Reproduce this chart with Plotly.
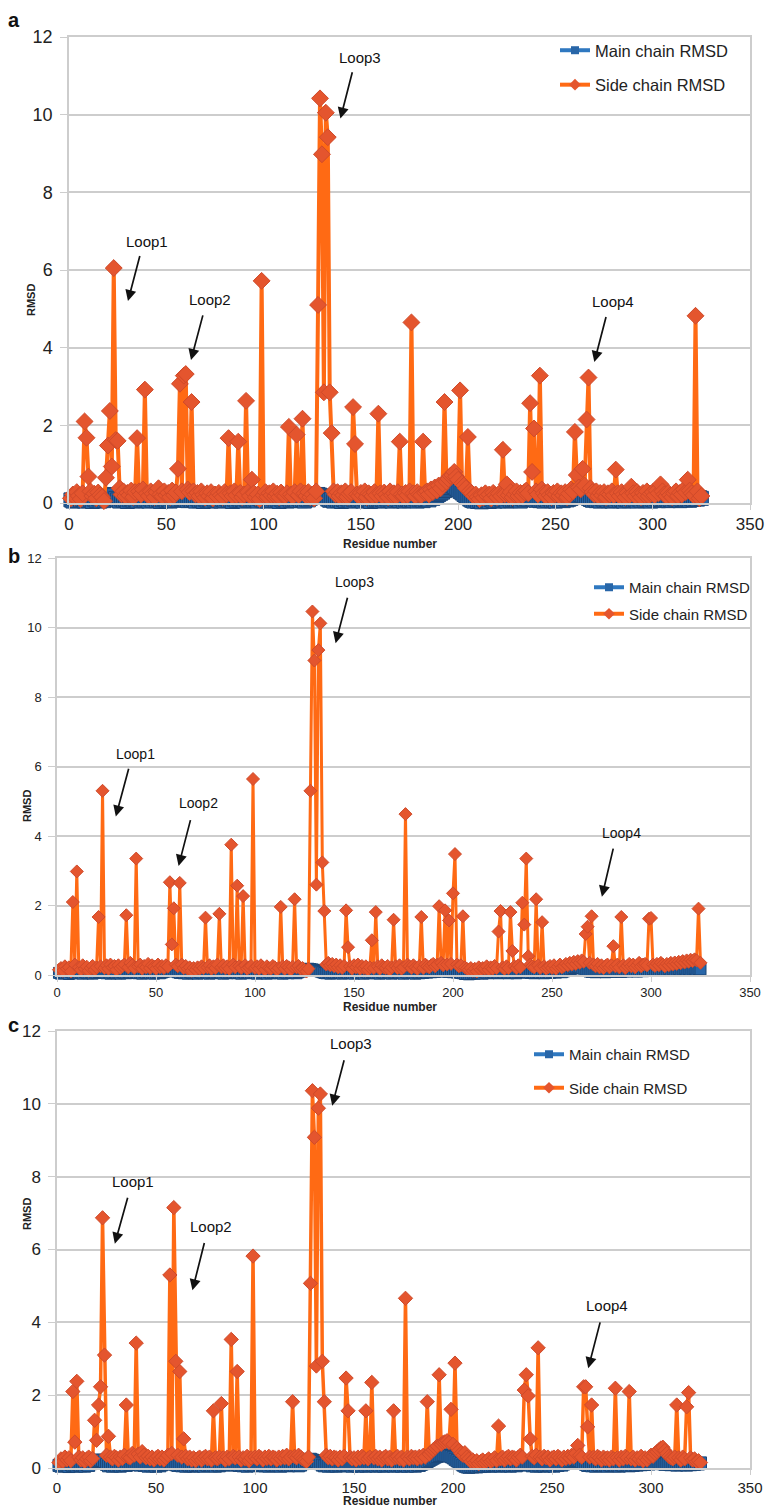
import plotly.graph_objects as go

# ---------------- data ----------------
residues = list(range(1, 326))

main_a = [
    0.08, 0.05, 0.10, 0.06, 0.12, 0.07, 0.09, 0.05, 0.11, 0.06,
    0.08, 0.04, 0.10, 0.07, 0.12, 0.05, 0.09, 0.06, 0.10, 0.14,
    0.18, 0.22, 0.20, 0.12, 0.08, 0.05, 0.10, 0.07, 0.09, 0.04,
    0.08, 0.11, 0.06, 0.09, 0.05, 0.12, 0.07, 0.10, 0.06, 0.08,
    0.05, 0.10, 0.07, 0.12, 0.06, 0.09, 0.04, 0.08, 0.11, 0.06,
    0.09, 0.05, 0.10, 0.07, 0.12, 0.08, 0.14, 0.10, 0.12, 0.08,
    0.06, 0.10, 0.07, 0.09, 0.05, 0.11, 0.06, 0.08, 0.04, 0.10,
    0.07, 0.09, 0.05, 0.12, 0.06, 0.08, 0.10, 0.05, 0.09, 0.07,
    0.11, 0.06, 0.08, 0.04, 0.10, 0.07, 0.12, 0.06, 0.09, 0.05,
    0.10, 0.07, 0.08, 0.12, 0.06, 0.09, 0.05, 0.11, 0.08, 0.06,
    0.09, 0.05, 0.10, 0.07, 0.12, 0.06, 0.08, 0.04, 0.10, 0.07,
    0.09, 0.05, 0.11, 0.06, 0.08, 0.10, 0.07, 0.12, 0.06, 0.09,
    0.05, 0.10, 0.08, 0.12, 0.15, 0.18, 0.20, 0.22, 0.20, 0.18,
    0.16, 0.14, 0.10, 0.07, 0.09, 0.05, 0.10, 0.06, 0.08, 0.04,
    0.09, 0.06, 0.11, 0.07, 0.05, 0.10, 0.08, 0.12, 0.06, 0.09,
    0.05, 0.10, 0.07, 0.09, 0.04, 0.11, 0.06, 0.08, 0.10, 0.05,
    0.09, 0.07, 0.12, 0.06, 0.08, 0.05, 0.10, 0.07, 0.09, 0.06,
    0.11, 0.05, 0.08, 0.10, 0.06, 0.09, 0.07, 0.12, 0.05, 0.08,
    0.10, 0.06, 0.09, 0.12, 0.08, 0.14, 0.12, 0.16, 0.18, 0.22,
    0.25, 0.28, 0.32, 0.36, 0.40, 0.44, 0.46, 0.42, 0.38, 0.34,
    0.30, 0.26, 0.22, 0.18, 0.14, 0.10, 0.07, 0.05, 0.08, 0.04,
    0.06, 0.03, 0.08, 0.05, 0.07, 0.04, 0.09, 0.06, 0.05, 0.08,
    0.06, 0.10, 0.07, 0.09, 0.05, 0.11, 0.06, 0.08, 0.10, 0.07,
    0.09, 0.05, 0.11, 0.08, 0.12, 0.10, 0.14, 0.12, 0.09, 0.07,
    0.10, 0.06, 0.08, 0.05, 0.09, 0.07, 0.11, 0.06, 0.08, 0.05,
    0.10, 0.07, 0.09, 0.06, 0.12, 0.08, 0.10, 0.12, 0.14, 0.16,
    0.18, 0.20, 0.22, 0.20, 0.18, 0.15, 0.12, 0.09, 0.07, 0.10,
    0.06, 0.08, 0.05, 0.11, 0.07, 0.09, 0.06, 0.10, 0.05, 0.08,
    0.07, 0.12, 0.06, 0.09, 0.05, 0.10, 0.08, 0.06, 0.11, 0.07,
    0.09, 0.05, 0.10, 0.07, 0.12, 0.06, 0.08, 0.10, 0.05, 0.09,
    0.07, 0.11, 0.06, 0.09, 0.12, 0.08, 0.10, 0.06, 0.09, 0.07,
    0.11, 0.08, 0.10, 0.06, 0.09, 0.12, 0.08, 0.10, 0.07, 0.11,
    0.09, 0.12, 0.10, 0.14, 0.12,
]

side_a = [
    0.12, 0.22, 0.15, 0.28, 0.18, 0.10, 0.25, 2.10, 1.68, 0.68,
    0.30, 0.18, 0.24, 0.12, 0.27, 0.20, 0.15, 0.05, 0.65, 1.48,
    2.37, 0.94, 6.05, 1.62, 1.60, 0.38, 0.22, 0.30, 0.18, 0.26,
    0.20, 0.32, 0.15, 0.28, 1.67, 0.30, 0.22, 0.35, 2.92, 0.25,
    0.18, 0.30, 0.24, 0.15, 0.28, 0.38, 0.22, 0.17, 0.30, 0.20,
    0.26, 0.15, 0.32, 0.20, 0.27, 0.88, 3.07, 0.30, 3.28, 3.32,
    0.35, 0.28, 2.60, 0.30, 0.22, 0.26, 0.18, 0.30, 0.21, 0.14,
    0.25, 0.18, 0.28, 0.12, 0.22, 0.17, 0.26, 0.20, 0.15, 0.28,
    0.22, 1.67, 0.25, 0.18, 0.30, 0.20, 1.58, 0.26, 0.15, 0.22,
    2.63, 0.28, 0.18, 0.60, 0.25, 0.15, 0.22, 0.10, 5.72, 0.20,
    0.28, 0.16, 0.25, 0.20, 0.30, 0.18, 0.24, 0.15, 0.27, 0.20,
    0.18, 0.25, 1.96, 0.22, 0.17, 0.28, 1.76, 0.20, 0.30, 2.17,
    0.25, 0.18, 0.28, 0.15, 0.22, 0.12, 0.30, 5.10, 10.42, 8.98,
    2.85, 10.05, 9.42, 2.85, 1.80, 0.30, 0.22, 0.28, 0.18, 0.25,
    0.20, 0.30, 0.16, 0.24, 0.28, 2.47, 1.52, 0.22, 0.18, 0.26,
    0.20, 0.30, 0.15, 0.25, 0.22, 0.18, 0.28, 0.20, 2.30, 0.25,
    0.18, 0.27, 0.22, 0.15, 0.30, 0.20, 0.25, 0.17, 0.28, 1.58,
    0.22, 0.18, 0.26, 0.20, 0.30, 4.65, 0.25, 0.18, 0.28, 0.22,
    0.20, 1.58, 0.26, 0.30, 0.22, 0.35, 0.28, 0.40, 0.32, 0.45,
    0.38, 0.50, 2.60, 0.55, 0.62, 0.70, 0.72, 0.80, 0.68, 0.60,
    2.90, 0.50, 0.45, 0.38, 1.70, 0.30, 0.25, 0.18, 0.22, 0.15,
    0.10, 0.20, 0.14, 0.25, 0.18, 0.22, 0.12, 0.26, 0.20, 0.15,
    0.24, 0.18, 1.37, 0.22, 0.48, 0.20, 0.28, 0.15, 0.22, 0.30,
    0.18, 0.26, 0.20, 0.28, 0.32, 0.25, 2.57, 0.80, 1.92, 0.30,
    0.22, 3.28, 0.35, 0.25, 0.18, 0.28, 0.20, 0.15, 0.26, 0.22,
    0.30, 0.18, 0.25, 0.20, 0.28, 0.15, 0.24, 0.35, 0.30, 1.83,
    0.72, 0.40, 0.35, 0.88, 0.45, 2.15, 3.23, 0.38, 0.28, 0.22,
    0.30, 0.18, 0.26, 0.20, 0.28, 0.15, 0.25, 0.22, 0.30, 0.20,
    0.86, 0.25, 0.18, 0.28, 0.22, 0.15, 0.26, 0.20, 0.42, 0.25,
    0.18, 0.28, 0.22, 0.15, 0.26, 0.20, 0.30, 0.18, 0.24, 0.28,
    0.20, 0.32, 0.25, 0.48, 0.30, 0.22, 0.18, 0.26, 0.20, 0.15,
    0.25, 0.30, 0.18, 0.26, 0.22, 0.35, 0.28, 0.60, 0.32, 0.25,
    0.20, 4.82, 0.30, 0.12, 0.18,
]

main_b = [
    0.06, 0.04, 0.08, 0.05, 0.07, 0.03, 0.09, 0.05, 0.06, 0.08,
    0.05, 0.07, 0.04, 0.09, 0.06, 0.05, 0.08, 0.04, 0.07, 0.06,
    0.09, 0.11, 0.10, 0.07, 0.05, 0.08, 0.04, 0.06, 0.09, 0.05,
    0.07, 0.04, 0.08, 0.06, 0.05, 0.09, 0.07, 0.10, 0.06, 0.08,
    0.05, 0.07, 0.04, 0.09, 0.06, 0.08, 0.05, 0.07, 0.04, 0.06,
    0.08, 0.05, 0.07, 0.09, 0.11, 0.13, 0.15, 0.14, 0.12, 0.10,
    0.08, 0.06, 0.09, 0.05, 0.07, 0.04, 0.08, 0.06, 0.05, 0.07,
    0.04, 0.08, 0.06, 0.05, 0.09, 0.07, 0.04, 0.06, 0.08, 0.05,
    0.07, 0.09, 0.06, 0.04, 0.08, 0.05, 0.07, 0.10, 0.06, 0.08,
    0.05, 0.07, 0.04, 0.09, 0.06, 0.08, 0.05, 0.07, 0.10, 0.06,
    0.04, 0.07, 0.05, 0.08, 0.06, 0.04, 0.09, 0.05, 0.07, 0.06,
    0.08, 0.05, 0.07, 0.04, 0.09, 0.06, 0.05, 0.08, 0.06, 0.07,
    0.05, 0.08, 0.10, 0.12, 0.14, 0.16, 0.18, 0.17, 0.16, 0.15,
    0.14, 0.12, 0.10, 0.08, 0.06, 0.05, 0.08, 0.04, 0.07, 0.06,
    0.05, 0.08, 0.06, 0.04, 0.07, 0.09, 0.05, 0.07, 0.06, 0.04,
    0.08, 0.06, 0.05, 0.07, 0.04, 0.09, 0.06, 0.05, 0.08, 0.07,
    0.05, 0.07, 0.04, 0.08, 0.06, 0.05, 0.09, 0.06, 0.04, 0.07,
    0.06, 0.08, 0.05, 0.07, 0.04, 0.09, 0.06, 0.05, 0.08, 0.06,
    0.04, 0.07, 0.05, 0.08, 0.06, 0.09, 0.07, 0.10, 0.08, 0.11,
    0.09, 0.12, 0.10, 0.13, 0.11, 0.12, 0.10, 0.09, 0.11, 0.08,
    0.10, 0.07, 0.09, 0.06, 0.05, 0.03, 0.04, 0.02, 0.03, 0.05,
    0.04, 0.06, 0.05, 0.07, 0.04, 0.08, 0.06, 0.05, 0.07, 0.09,
    0.06, 0.08, 0.05, 0.07, 0.09, 0.06, 0.08, 0.05, 0.07, 0.06,
    0.08, 0.05, 0.07, 0.09, 0.11, 0.08, 0.10, 0.07, 0.06, 0.08,
    0.05, 0.07, 0.09, 0.06, 0.08, 0.05, 0.07, 0.09, 0.06, 0.08,
    0.10, 0.07, 0.09, 0.11, 0.08, 0.10, 0.12, 0.14, 0.16, 0.18,
    0.20, 0.22, 0.24, 0.22, 0.20, 0.18, 0.15, 0.12, 0.10, 0.09,
    0.11, 0.08, 0.10, 0.12, 0.09, 0.11, 0.08, 0.10, 0.12, 0.09,
    0.11, 0.13, 0.10, 0.12, 0.09, 0.11, 0.13, 0.10, 0.12, 0.14,
    0.11, 0.13, 0.10, 0.12, 0.14, 0.11, 0.13, 0.15, 0.12, 0.14,
    0.16, 0.13, 0.15, 0.12, 0.14, 0.16, 0.13, 0.15, 0.17, 0.14,
    0.16, 0.13, 0.15, 0.17, 0.14, 0.16, 0.18, 0.15, 0.17, 0.14,
    0.16, 0.18, 0.15, 0.17, 0.16,
]

side_b = [
    0.15, 0.20, 0.12, 0.25, 0.18, 0.22, 0.10, 2.10, 0.30, 2.98,
    0.22, 0.15, 0.28, 0.18, 0.24, 0.12, 0.20, 0.26, 0.15, 0.22,
    1.67, 0.25, 5.30, 0.20, 0.28, 0.18, 0.30, 0.22, 0.26, 0.15,
    0.28, 0.20, 0.25, 0.30, 1.72, 0.22, 0.35, 0.28, 0.20, 3.35,
    0.25, 0.30, 0.18, 0.26, 0.22, 0.32, 0.20, 0.28, 0.24, 0.18,
    0.30, 0.22, 0.26, 0.20, 0.28, 0.24, 2.67, 0.88, 1.92, 0.30,
    0.25, 2.65, 0.30, 0.20, 0.26, 0.18, 0.22, 0.12, 0.20, 0.15,
    0.22, 0.18, 0.25, 0.20, 1.65, 0.22, 0.28, 0.18, 0.25, 0.20,
    0.30, 1.76, 0.22, 0.28, 0.20, 0.25, 0.18, 3.75, 0.30, 0.22,
    2.57, 0.25, 0.20, 2.27, 0.28, 0.18, 0.22, 0.26, 5.64, 0.20,
    0.25, 0.18, 0.28, 0.22, 0.15, 0.25, 0.20, 0.18, 0.26, 0.22,
    0.15, 0.20, 1.96, 0.25, 0.18, 0.26, 0.22, 0.15, 0.24, 2.18,
    0.22, 0.26, 0.18, 0.20, 0.15, 0.10, 0.18, 5.30, 10.46, 9.05,
    2.60, 9.35, 10.12, 3.24, 1.84, 0.30, 0.35, 0.28, 0.32, 0.25,
    0.30, 0.22, 0.28, 0.20, 0.26, 1.86, 0.80, 0.25, 0.18, 0.28,
    0.22, 0.30, 0.18, 0.26, 0.20, 0.25, 0.15, 0.22, 1.00, 0.20,
    1.81, 0.25, 0.18, 0.28, 0.22, 0.20, 0.26, 0.15, 0.22, 1.59,
    0.25, 0.20, 0.28, 0.18, 0.22, 4.63, 0.30, 0.25, 0.20, 0.28,
    0.22, 0.18, 0.26, 1.67, 0.20, 0.30, 0.25, 0.22, 0.28, 0.32,
    0.25, 0.30, 1.98, 0.35, 0.28, 1.86, 0.30, 1.57, 0.32, 2.35,
    3.48, 0.30, 0.25, 0.28, 1.69, 0.22, 0.18, 0.15, 0.20, 0.12,
    0.18, 0.10, 0.22, 0.15, 0.20, 0.18, 0.25, 0.15, 0.22, 0.18,
    0.26, 0.20, 1.25, 1.84, 0.22, 0.18, 0.25, 0.20, 1.81, 0.69,
    0.25, 0.20, 0.28, 0.22, 2.08, 1.45, 3.35, 0.54, 0.30, 0.25,
    0.22, 2.18, 0.28, 0.20, 1.52, 0.25, 0.18, 0.22, 0.26, 0.20,
    0.28, 0.18, 0.24, 0.30, 0.22, 0.26, 0.32, 0.28, 0.35, 0.30,
    0.38, 0.32, 0.40, 0.35, 0.42, 0.38, 1.18, 1.39, 0.35, 1.69,
    0.30, 0.25, 0.32, 0.22, 0.28, 0.20, 0.26, 0.30, 0.22, 0.28,
    0.83, 0.25, 0.30, 0.22, 1.67, 0.28, 0.20, 0.26, 0.32, 0.25,
    0.30, 0.22, 0.28, 0.35, 0.25, 0.30, 0.32, 0.28, 1.62, 1.64,
    0.30, 0.26, 0.32, 0.28, 0.35, 0.30, 0.25, 0.32, 0.28, 0.35,
    0.30, 0.36, 0.32, 0.38, 0.34, 0.40, 0.36, 0.42, 0.38, 0.44,
    0.40, 0.45, 0.42, 1.91, 0.35,
]

main_c = [
    0.07, 0.05, 0.09, 0.06, 0.08, 0.04, 0.10, 0.06, 0.08, 0.05,
    0.09, 0.06, 0.08, 0.05, 0.10, 0.07, 0.12, 0.14, 0.16, 0.18,
    0.20, 0.22, 0.21, 0.18, 0.10, 0.06, 0.09, 0.05, 0.08, 0.06,
    0.09, 0.05, 0.08, 0.10, 0.07, 0.11, 0.09, 0.12, 0.14, 0.12,
    0.10, 0.08, 0.11, 0.07, 0.09, 0.05, 0.08, 0.06, 0.09, 0.05,
    0.08, 0.06, 0.09, 0.11, 0.13, 0.15, 0.17, 0.15, 0.12, 0.09,
    0.07, 0.10, 0.06, 0.08, 0.05, 0.09, 0.06, 0.08, 0.05, 0.07,
    0.09, 0.06, 0.08, 0.05, 0.10, 0.07, 0.09, 0.06, 0.08, 0.05,
    0.09, 0.06, 0.10, 0.08, 0.11, 0.09, 0.12, 0.14, 0.11, 0.08,
    0.10, 0.07, 0.09, 0.06, 0.08, 0.05, 0.09, 0.07, 0.10, 0.08,
    0.06, 0.09, 0.07, 0.10, 0.06, 0.08, 0.05, 0.09, 0.07, 0.10,
    0.06, 0.08, 0.05, 0.09, 0.07, 0.10, 0.06, 0.08, 0.11, 0.07,
    0.09, 0.06, 0.08, 0.12, 0.16, 0.20, 0.22, 0.24, 0.22, 0.20,
    0.18, 0.15, 0.12, 0.08, 0.06, 0.09, 0.05, 0.08, 0.06, 0.09,
    0.05, 0.08, 0.06, 0.09, 0.07, 0.10, 0.06, 0.08, 0.05, 0.09,
    0.07, 0.05, 0.08, 0.06, 0.09, 0.05, 0.08, 0.06, 0.09, 0.07,
    0.05, 0.08, 0.06, 0.09, 0.05, 0.08, 0.06, 0.10, 0.07, 0.05,
    0.08, 0.06, 0.09, 0.05, 0.08, 0.07, 0.05, 0.09, 0.06, 0.08,
    0.05, 0.09, 0.07, 0.10, 0.12, 0.15, 0.18, 0.21, 0.24, 0.27,
    0.30, 0.32, 0.34, 0.35, 0.36, 0.35, 0.34, 0.33, 0.31, 0.28,
    0.24, 0.20, 0.16, 0.12, 0.08, 0.05, 0.03, 0.02, 0.04, 0.03,
    0.05, 0.03, 0.06, 0.04, 0.07, 0.05, 0.08, 0.06, 0.05, 0.07,
    0.09, 0.06, 0.08, 0.05, 0.07, 0.09, 0.06, 0.08, 0.05, 0.07,
    0.09, 0.06, 0.08, 0.10, 0.12, 0.14, 0.12, 0.10, 0.08, 0.06,
    0.09, 0.05, 0.08, 0.06, 0.09, 0.05, 0.07, 0.09, 0.06, 0.08,
    0.05, 0.09, 0.07, 0.10, 0.08, 0.11, 0.13, 0.15, 0.17, 0.19,
    0.21, 0.23, 0.22, 0.20, 0.17, 0.13, 0.10, 0.07, 0.09, 0.06,
    0.08, 0.05, 0.09, 0.07, 0.10, 0.06, 0.08, 0.05, 0.09, 0.07,
    0.10, 0.06, 0.08, 0.05, 0.09, 0.07, 0.11, 0.08, 0.06, 0.09,
    0.07, 0.10, 0.08, 0.11, 0.09, 0.12, 0.10, 0.13, 0.11, 0.14,
    0.12, 0.15, 0.13, 0.16, 0.14, 0.12, 0.10, 0.13, 0.11, 0.09,
    0.12, 0.10, 0.08, 0.11, 0.09, 0.12, 0.10, 0.08, 0.11, 0.09,
    0.12, 0.10, 0.13, 0.11, 0.14,
]

side_c = [
    0.15, 0.25, 0.18, 0.30, 0.22, 0.28, 0.20, 2.10, 0.71, 2.38,
    0.30, 0.22, 0.28, 0.18, 0.25, 0.30, 0.20, 0.26, 1.31, 0.76,
    1.73, 2.23, 6.87, 3.10, 0.35, 0.87, 0.30, 0.25, 0.32, 0.28,
    0.22, 0.30, 0.26, 0.35, 1.73, 0.30, 0.28, 0.40, 0.35, 3.43,
    0.38, 0.30, 0.45, 0.35, 0.28, 0.32, 0.25, 0.30, 0.22, 0.28,
    0.32, 0.25, 0.30, 0.22, 0.28, 0.35, 5.30, 0.40, 7.15, 2.93,
    0.35, 2.65, 0.30, 0.80, 0.32, 0.25, 0.30, 0.22, 0.28, 0.20,
    0.26, 0.30, 0.22, 0.28, 0.32, 0.25, 0.30, 0.22, 1.57, 0.28,
    0.25, 0.30, 1.77, 0.28, 0.22, 0.30, 0.25, 3.53, 0.32, 0.28,
    2.65, 0.30, 0.22, 0.28, 0.25, 0.32, 0.20, 0.28, 5.82, 0.30,
    0.25, 0.32, 0.28, 0.22, 0.30, 0.26, 0.32, 0.25, 0.30, 0.28,
    0.22, 0.30, 0.26, 0.32, 0.28, 0.35, 0.25, 0.30, 1.82, 0.32,
    0.28, 0.35, 0.30, 0.25, 0.22, 0.18, 0.30, 5.07, 10.36, 9.08,
    2.80, 9.88, 10.27, 2.93, 1.82, 0.35, 0.28, 0.32, 0.25, 0.30,
    0.28, 0.22, 0.30, 0.25, 0.32, 2.47, 1.57, 0.30, 0.25, 0.28,
    0.22, 0.30, 0.26, 0.32, 0.28, 1.57, 0.25, 0.30, 2.35, 0.28,
    0.32, 0.25, 0.30, 0.22, 0.28, 0.32, 0.25, 0.30, 0.22, 1.57,
    0.28, 0.32, 0.25, 0.30, 0.22, 4.66, 0.30, 0.25, 0.32, 0.28,
    0.30, 0.25, 0.32, 0.28, 0.35, 0.30, 1.82, 0.38, 0.45, 0.50,
    0.55, 0.60, 2.56, 0.65, 0.70, 0.72, 0.75, 0.70, 1.61, 0.65,
    2.88, 0.55, 0.48, 0.40, 0.35, 0.42, 0.30, 0.25, 0.18, 0.22,
    0.15, 0.20, 0.12, 0.18, 0.22, 0.15, 0.20, 0.25, 0.18, 0.22,
    0.28, 0.20, 1.15, 0.25, 0.30, 0.22, 0.28, 0.32, 0.25, 0.30,
    0.28, 0.22, 0.30, 0.35, 0.30, 2.14, 2.56, 1.98, 0.80, 0.32,
    0.28, 0.35, 3.30, 0.30, 0.25, 0.32, 0.28, 0.30, 0.22, 0.28,
    0.30, 0.25, 0.32, 0.28, 0.22, 0.30, 0.26, 0.32, 0.28, 0.35,
    0.30, 0.40, 0.62, 0.35, 0.30, 2.23, 2.23, 1.13, 0.30, 1.73,
    0.30, 0.25, 0.32, 0.28, 0.22, 0.30, 0.25, 0.28, 0.22, 0.30,
    0.25, 2.19, 0.28, 0.22, 0.30, 0.25, 0.32, 0.28, 2.10, 0.25,
    0.30, 0.22, 0.28, 0.25, 0.32, 0.20, 0.28, 0.22, 0.30, 0.35,
    0.32, 0.40, 0.45, 0.50, 0.55, 0.57, 0.48, 0.40, 0.32, 0.28,
    0.25, 0.30, 1.73, 0.28, 0.22, 0.30, 0.25, 1.68, 2.07, 0.28,
    0.22, 0.25, 0.18, 0.20, 0.15,
]

for arr in (main_a, side_a, main_b, side_b, main_c, side_c):
    assert len(arr) == len(residues), len(arr)

x_ticks = [0, 50, 100, 150, 200, 250, 300, 350]
y_ticks = [0, 2, 4, 6, 8, 10, 12]
series_names = ["Main chain RMSD", "Side chain RMSD"]
loop_names = ["Loop1", "Loop2", "Loop3", "Loop4"]
x_title = "Residue number"
y_title = "RMSD"

# label position (x, y) and arrow tail -> head, in data units
loops_a = [(40.0, 6.74, 36.6, 6.40, 30.3, 5.20), (72.5, 5.23, 69.0, 4.87, 62.7, 3.68),
           (149.6, 11.47, 145.8, 11.13, 139.5, 9.90), (279.8, 5.20, 276.2, 4.83, 270.0, 3.63)]
loops_b = [(39.4, 6.37, 36.4, 5.98, 29.7, 4.56), (71.3, 4.95, 67.6, 4.50, 61.4, 3.14),
           (150.4, 11.30, 146.9, 10.90, 140.7, 9.55), (284.9, 4.09, 281.1, 3.68, 275.2, 2.25)]
loops_c = [(38.6, 7.88, 35.9, 7.46, 29.2, 6.16), (78.0, 6.62, 74.6, 6.22, 68.4, 4.88),
           (148.6, 11.65, 145.2, 11.24, 139.0, 9.95), (277.7, 4.46, 274.5, 4.04, 268.3, 2.74)]

# ---------------- styling ----------------
W, H = 767, 1511
FONT = "Liberation Sans Narrow, Arial Narrow, Liberation Sans, Arial, sans-serif"
ORANGE_LINE = "#FF6A14"
ORANGE_MARK = "#E4552E"
BLUE_LINE = "#2F78C0"
BLUE_MARK = "#2866A8"
GRID = "#cdcdcd"


def px_x(p):
    return p / W


def px_y(p):
    return 1 - p / H


panels = [
    dict(tag="a", main=main_a, side=side_a, loops=loops_a,
         xdom=[69, 750], ydom=[503, 37], ytick=18, xtick=17, lw=4, dsize=13, ssize=14, blw=5,
         leg=(555, 33), legfont=16.5, leggap=10, lab=(14, 20), rmsd=(31, 300), res=(390, 544), loopfont=15),
    dict(tag="b", main=main_b, side=side_b, loops=loops_b,
         xdom=[57, 750], ydom=[975, 558], ytick=13, xtick=13, lw=3, dsize=10, ssize=11, blw=4,
         leg=(589, 571), legfont=15, leggap=4, lab=(14, 556), rmsd=(27, 806), res=(390, 1007), loopfont=14),
    dict(tag="c", main=main_c, side=side_c, loops=loops_c,
         xdom=[57, 750], ydom=[1468, 1031], ytick=17, xtick=15, lw=3.5, dsize=11, ssize=12, blw=4,
         leg=(529, 1038), legfont=15, leggap=11, lab=(14, 1025), rmsd=(27, 1214), res=(390, 1501), loopfont=15),
]

fig = go.Figure()
layout = dict(width=W, height=H, margin=dict(l=0, r=0, t=0, b=0, autoexpand=False),
              paper_bgcolor="white", plot_bgcolor="white", showlegend=True)
annotations = []

for i, p in enumerate(panels):
    n = "" if i == 0 else str(i + 1)
    xa, ya = "x" + n, "y" + n
    legname = "legend" + n
    fig.add_trace(go.Scatter(
        x=residues, y=p["main"], name=series_names[0], mode="lines+markers",
        xaxis=xa, yaxis=ya, showlegend=False, cliponaxis=False,
        line=dict(color=BLUE_LINE, width=p["blw"]),
        marker=dict(symbol="square", size=p["ssize"], color=BLUE_MARK,
                    line=dict(color="#1b4677", width=1))))
    fig.add_trace(go.Scatter(
        x=residues, y=p["side"], name=series_names[1], mode="lines+markers",
        xaxis=xa, yaxis=ya, showlegend=False, cliponaxis=False,
        line=dict(color=ORANGE_LINE, width=p["lw"]),
        marker=dict(symbol="diamond", size=p["dsize"], color=ORANGE_MARK,
                    line=dict(color="#cf4a2a", width=1))))
    # legend entries (small Excel-style swatches)
    fig.add_trace(go.Scatter(
        x=[None], y=[None], name=series_names[0], mode="lines+markers",
        xaxis=xa, yaxis=ya, legend=legname, legendgroup=p["tag"] + "m",
        line=dict(color=BLUE_LINE, width=4),
        marker=dict(symbol="square", size=8, color=BLUE_MARK)))
    fig.add_trace(go.Scatter(
        x=[None], y=[None], name=series_names[1], mode="lines+markers",
        xaxis=xa, yaxis=ya, legend=legname, legendgroup=p["tag"] + "s",
        line=dict(color=ORANGE_LINE, width=4),
        marker=dict(symbol="diamond", size=9, color=ORANGE_MARK)))

    layout["xaxis" + n] = dict(
        domain=[px_x(p["xdom"][0]), px_x(p["xdom"][1])], anchor=ya, range=[0, 350],
        tickvals=x_ticks, showgrid=False, zeroline=False, showline=True, mirror=True,
        linecolor=GRID, linewidth=1.5, ticks="outside", ticklen=5, tickcolor=GRID,
        tickfont=dict(family=FONT, size=p["xtick"], color="#222"))
    layout["yaxis" + n] = dict(
        domain=[px_y(p["ydom"][0]), px_y(p["ydom"][1])], anchor=xa, range=[0, 12],
        tickvals=y_ticks, showgrid=True, gridcolor=GRID, gridwidth=1.5, zeroline=False,
        showline=True, mirror=True, linecolor=GRID, linewidth=1.5, ticks="outside",
        ticklen=7, tickcolor=GRID, ticklabelstandoff=4,
        tickfont=dict(family=FONT, size=p["ytick"], color="#222"))
    layout[legname] = dict(
        x=px_x(p["leg"][0]), y=px_y(p["leg"][1]), xanchor="left", yanchor="top",
        bgcolor="rgba(255,255,255,0)", borderwidth=0, tracegroupgap=p["leggap"],
        font=dict(family=FONT, size=p["legfont"], color="#222"))

    # panel letter and axis titles
    annotations.append(dict(text="<b>%s</b>" % p["tag"], xref="paper", yref="paper",
                            x=px_x(p["lab"][0]), y=px_y(p["lab"][1]), showarrow=False,
                            xanchor="center", yanchor="middle",
                            font=dict(family="Liberation Sans, Arial", size=20, color="#111")))
    annotations.append(dict(text="<b>%s</b>" % y_title, xref="paper", yref="paper",
                            x=px_x(p["rmsd"][0]), y=px_y(p["rmsd"][1]), showarrow=False,
                            textangle=-90, xanchor="center", yanchor="middle",
                            font=dict(family="Liberation Sans, Arial", size=11, color="#222")))
    annotations.append(dict(text="<b>%s</b>" % x_title, xref="paper", yref="paper",
                            x=px_x(p["res"][0]), y=px_y(p["res"][1]), showarrow=False,
                            xanchor="center", yanchor="middle",
                            font=dict(family=FONT, size=12, color="#222")))

    # loop labels and arrows
    for name, (tx, ty, ax0, ay0, hx, hy) in zip(loop_names, p["loops"]):
        annotations.append(dict(text=name, xref=xa, yref=ya, x=tx, y=ty, showarrow=False,
                                xanchor="center", yanchor="middle",
                                font=dict(family=FONT, size=p["loopfont"], color="#111")))
        annotations.append(dict(text="", xref=xa, yref=ya, x=hx, y=hy,
                                axref=xa, ayref=ya, ax=ax0, ay=ay0, showarrow=True,
                                arrowhead=2, arrowsize=1.3, arrowwidth=1.7, arrowcolor="#111"))

layout["annotations"] = annotations
fig.update_layout(**layout)
# the page's default 8px body margin would shift the figure; remove it
fig.write_html("out.html", config={"displayModeBar": False},
               post_script="document.body.style.margin='0px';")
